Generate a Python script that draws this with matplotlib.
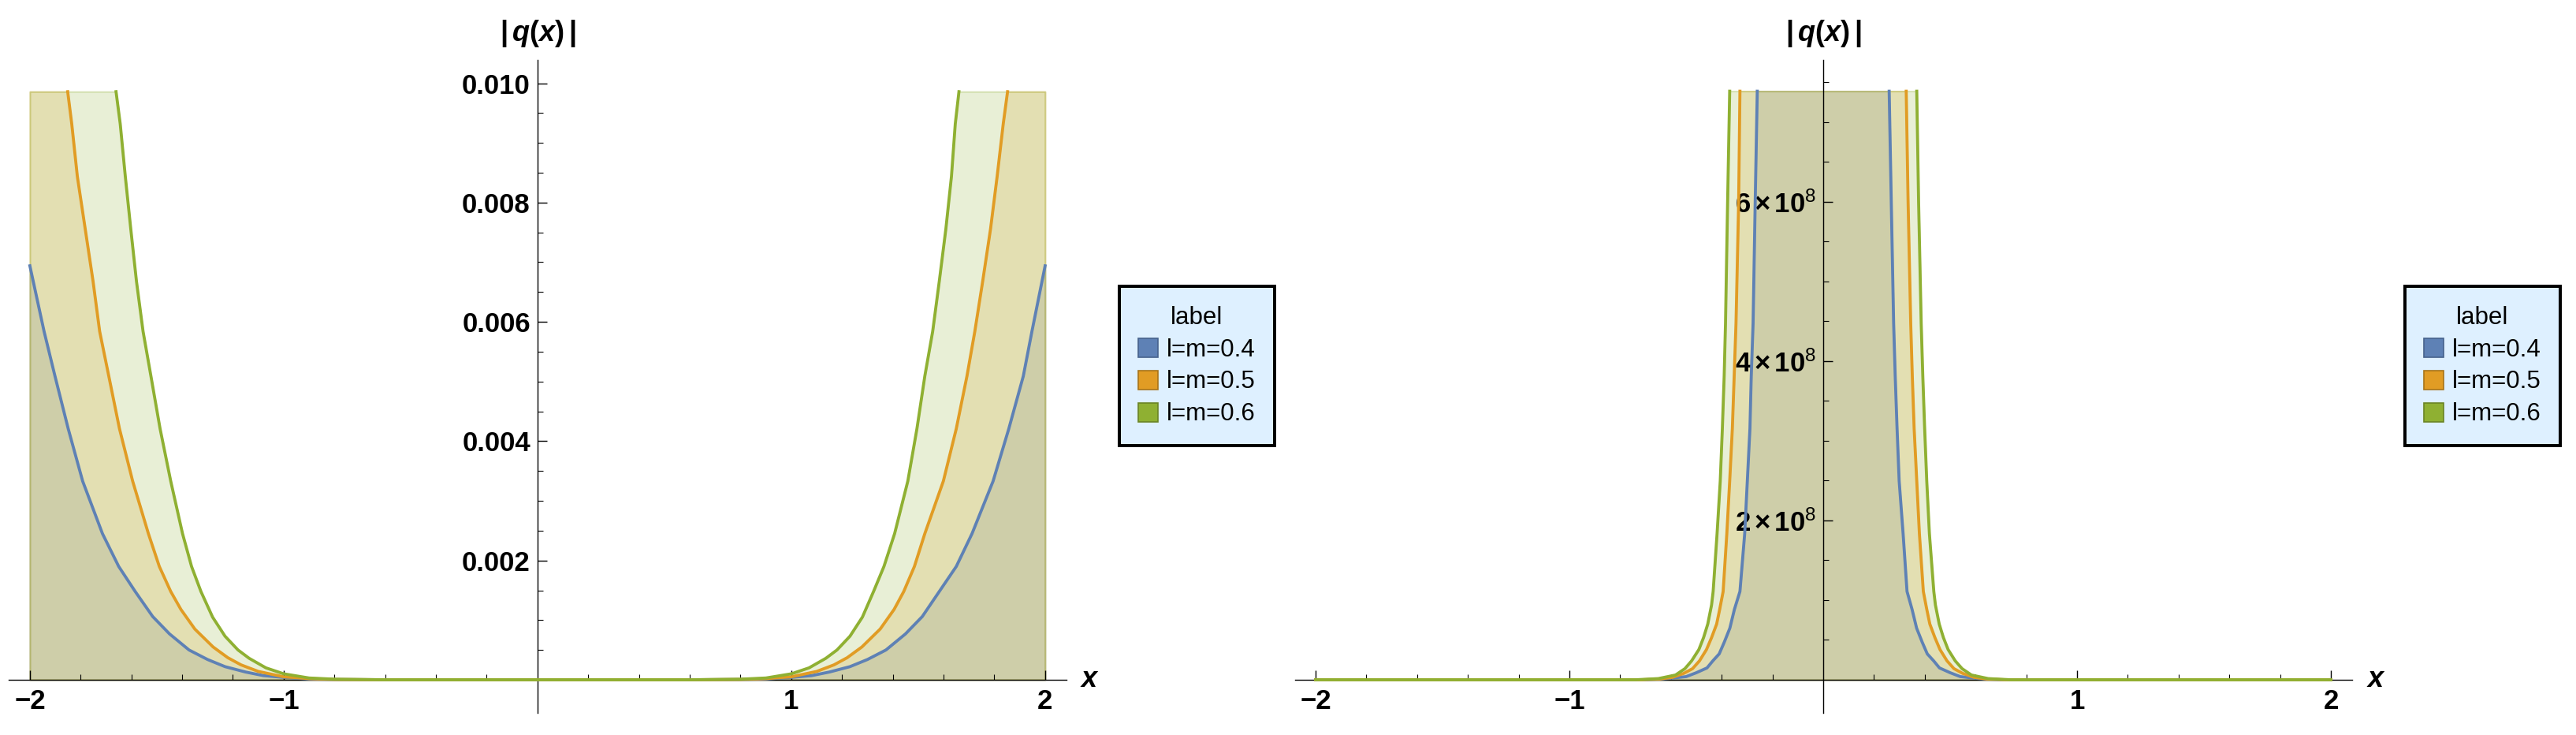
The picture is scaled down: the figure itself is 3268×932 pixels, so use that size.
import numpy as np
import matplotlib
matplotlib.use("Agg")
import matplotlib.pyplot as plt
from matplotlib.patches import Patch
from matplotlib.colors import to_rgba

plt.rcParams['font.family'] = ['Liberation Sans', 'DejaVu Sans']
plt.rcParams['mathtext.fontset'] = 'custom'
plt.rcParams['mathtext.rm'] = 'Liberation Sans:bold'
plt.rcParams['mathtext.it'] = 'Liberation Sans:bold:italic'
plt.rcParams['mathtext.bf'] = 'Liberation Sans:bold'
plt.rcParams['mathtext.sf'] = 'Liberation Sans'

# ---------------- data ----------------
labels = ['l=m=0.4', 'l=m=0.5', 'l=m=0.6']
colors = ['#5E81B5', '#E19C24', '#8FB032']
swatch_edges = ['#46628C', '#A87418', '#6A8424']
legend_title = 'label'

# plot-range tops (curves are clipped there)
TOP_L = 0.00986
TOP_R = 7.39e8

# left panel: |q(x)| (small scale)
xL_04 = [-2.0, -1.944, -1.901, -1.849, -1.792, -1.714, -1.65, -1.585, -1.516, -1.45, -1.373, -1.30, -1.231,
         -1.15, -1.08, -1.0, -0.9, -0.8, -0.6,
         0.6, 0.8, 0.9, 1.0, 1.08, 1.15, 1.231, 1.30, 1.373, 1.45, 1.516, 1.583, 1.65, 1.712, 1.795, 1.857,
         1.914, 1.948, 2.0]
yL_04 = [0.00694, 0.00584, 0.00509, 0.00421, 0.00333, 0.00245, 0.00190, 0.00148, 0.00106, 0.00077, 0.00050,
         0.00034, 0.00022, 0.00013, 0.00007, 0.00004, 0.000015, 0.000005, 0.0,
         0.0, 0.000005, 0.000015, 0.00004, 0.00007, 0.00013, 0.00022, 0.00034, 0.00050, 0.00077, 0.00106,
         0.00148, 0.00190, 0.00245, 0.00333, 0.00421, 0.00509, 0.00584, 0.00694]

xL_05 = [-2.0, -1.851, -1.835, -1.813, -1.782, -1.751, -1.725, -1.689, -1.647, -1.595, -1.533, -1.49, -1.445,
         -1.405, -1.35, -1.278, -1.22, -1.168, -1.10, -1.0, -0.9, -0.8, -0.6,
         0.6, 0.8, 0.9, 1.0, 1.10, 1.168, 1.22, 1.278, 1.35, 1.405, 1.443, 1.485, 1.526, 1.599, 1.650, 1.692,
         1.723, 1.754, 1.785, 1.811, 1.835, 1.852, 2.0]
yL_05 = [TOP_L, TOP_L, 0.00932, 0.00844, 0.00756, 0.00668, 0.00584, 0.00509, 0.00421, 0.00333, 0.00245, 0.00190,
         0.00148, 0.00118, 0.00085, 0.00055, 0.00037, 0.00025, 0.00014, 0.00005, 0.00002, 0.000005, 0.0,
         0.0, 0.000005, 0.00002, 0.00005, 0.00014, 0.00025, 0.00037, 0.00055, 0.00085, 0.00118, 0.00148, 0.00190,
         0.00245, 0.00333, 0.00421, 0.00509, 0.00584, 0.00668, 0.00756, 0.00844, 0.00932, TOP_L, TOP_L]

xL_06 = [-2.0, -1.6605, -1.644, -1.624, -1.6025, -1.580, -1.554, -1.523, -1.487, -1.445, -1.3985, -1.363, -1.326,
         -1.28, -1.231, -1.18, -1.136, -1.07, -1.0, -0.9, -0.8, -0.6,
         0.6, 0.8, 0.9, 1.0, 1.07, 1.136, 1.18, 1.231, 1.28, 1.324, 1.365, 1.407, 1.459, 1.495, 1.526, 1.557,
         1.583, 1.609, 1.631, 1.646, 1.6605, 2.0]
yL_06 = [TOP_L, TOP_L, 0.00932, 0.00844, 0.00756, 0.00668, 0.00584, 0.00509, 0.00421, 0.00333, 0.00245, 0.00190,
         0.00148, 0.00105, 0.00073, 0.00050, 0.00036, 0.00020, 0.00010, 0.00003, 0.00001, 0.0,
         0.0, 0.00001, 0.00003, 0.00010, 0.00020, 0.00036, 0.00050, 0.00073, 0.00105, 0.00148, 0.00190, 0.00245,
         0.00333, 0.00421, 0.00509, 0.00584, 0.00668, 0.00756, 0.00844, 0.00932, TOP_L, TOP_L]

# right panel: |q(x)| (large scale)
xR_04 = [-2.0, -0.70, -0.598, -0.54, -0.50, -0.458, -0.435, -0.41, -0.39, -0.368, -0.35, -0.3282, -0.3095,
         -0.2991, -0.2888, -0.2836, -0.2764, -0.2681, -0.2599, 0.0,
         0.2598, 0.2681, 0.2774, 0.2836, 0.2909, 0.2992, 0.3147, 0.3302, 0.35, 0.368, 0.39, 0.41, 0.435,
         0.458, 0.50, 0.54, 0.598, 0.70, 2.0]
yR_04 = [0.0, 0.0, 0.02e8, 0.04e8, 0.089e8, 0.149e8, 0.238e8, 0.325e8, 0.472e8, 0.648e8, 0.884e8, 1.109e8,
         1.835e8, 2.495e8, 3.155e8, 3.815e8, 4.475e8, 5.993e8, TOP_R, TOP_R,
         TOP_R, 5.993e8, 4.475e8, 3.815e8, 3.155e8, 2.495e8, 1.835e8, 1.109e8, 0.884e8, 0.648e8, 0.472e8,
         0.325e8, 0.238e8, 0.149e8, 0.089e8, 0.04e8, 0.02e8, 0.0, 0.0]

xR_05 = [-2.0, -0.72, -0.645, -0.595, -0.55, -0.515, -0.4876, -0.46, -0.44, -0.42, -0.408, -0.3944, -0.3799,
         -0.3686, -0.3581, -0.3509, -0.3437, -0.3333, -0.3282, 0.0,
         0.327, 0.3344, 0.3447, 0.3509, 0.3582, 0.3685, 0.3789, 0.3944, 0.408, 0.42, 0.44, 0.46, 0.4876,
         0.515, 0.55, 0.595, 0.645, 0.72, 2.0]
yR_05 = [0.0, 0.0, 0.01e8, 0.03e8, 0.08e8, 0.14e8, 0.238e8, 0.38e8, 0.53e8, 0.70e8, 0.884e8, 1.109e8, 1.835e8,
         2.495e8, 3.155e8, 3.815e8, 4.475e8, 5.993e8, TOP_R, TOP_R,
         TOP_R, 5.993e8, 4.475e8, 3.815e8, 3.155e8, 2.495e8, 1.835e8, 1.109e8, 0.884e8, 0.70e8, 0.53e8,
         0.38e8, 0.238e8, 0.14e8, 0.08e8, 0.03e8, 0.01e8, 0.0, 0.0]

xR_06 = [-2.0, -0.74, -0.65, -0.582, -0.545, -0.5186, -0.49, -0.4715, -0.455, -0.44, -0.4338, -0.4183,
         -0.4058, -0.3975, -0.3903, -0.3851, -0.3768, -0.3686, 0.0,
         0.3685, 0.3758, 0.386, 0.3923, 0.3996, 0.4079, 0.4183, 0.4357, 0.442, 0.457, 0.4735, 0.492, 0.52,
         0.547, 0.584, 0.65, 0.74, 2.0]
yR_06 = [0.0, 0.0, 0.015e8, 0.06e8, 0.14e8, 0.238e8, 0.38e8, 0.53e8, 0.70e8, 0.94e8, 1.109e8, 1.835e8,
         2.495e8, 3.155e8, 3.815e8, 4.475e8, 5.993e8, TOP_R, TOP_R,
         TOP_R, 5.993e8, 4.475e8, 3.815e8, 3.155e8, 2.495e8, 1.835e8, 1.109e8, 0.94e8, 0.70e8, 0.53e8,
         0.38e8, 0.238e8, 0.14e8, 0.06e8, 0.015e8, 0.0, 0.0]

x_ticks = [-2, -1, 1, 2]
x_ticklabels = ['\u22122', '\u22121', '1', '2']
x_minor = [-1.8, -1.6, -1.4, -1.2, -0.8, -0.6, -0.4, -0.2, 0.2, 0.4, 0.6, 0.8, 1.2, 1.4, 1.6, 1.8]

yL_ticks = [0.002, 0.004, 0.006, 0.008, 0.010]
yL_ticklabels = ['0.002', '0.004', '0.006', '0.008', '0.010']
yL_minor = [0.0005, 0.001, 0.0015, 0.0025, 0.003, 0.0035, 0.0045, 0.005, 0.0055,
            0.0065, 0.007, 0.0075, 0.0085, 0.009, 0.0095]

yR_ticks = [2e8, 4e8, 6e8]
yR_ticklabels = [r'$2\,{\times}\,10^{\mathsf{8}}$', r'$4\,{\times}\,10^{\mathsf{8}}$',
                 r'$6\,{\times}\,10^{\mathsf{8}}$']
yR_minor = [0.5e8, 1e8, 1.5e8, 2.5e8, 3e8, 3.5e8, 4.5e8, 5e8, 5.5e8, 6.5e8, 7e8, 7.5e8]

y_axis_label = r'$|\,q(x)\,|$'
x_axis_label = r'$x$'

# ---------------- figure ----------------
W, H = 3268, 932
fig = plt.figure(figsize=(W / 100, H / 100), dpi=100)

PX = 72 / 100  # points per pixel


def draw_series(ax, x, y, top, color):
    x = np.asarray(x, float)
    y = np.asarray(y, float)
    ax.fill_between(x, 0, y, facecolor=to_rgba(color, 0.2), edgecolor=to_rgba(color, 0.30),
                    linewidth=1.4, zorder=1)
    at_top = y >= top
    prev_top = np.r_[True, at_top[:-1]]
    next_top = np.r_[at_top[1:], True]
    hide = at_top & prev_top & next_top
    yl = np.where(hide, np.nan, y)
    ax.plot(x, yl, color=color, lw=3.8 * PX, zorder=3, solid_joinstyle='round')


def setup(ax, xlim, ylim, yticks, yticklabels, yminor):
    ax.set_xlim(xlim)
    ax.set_ylim(ylim)
    ax.patch.set_visible(False)
    for s in ['top', 'right']:
        ax.spines[s].set_visible(False)
    ax.spines['left'].set_position(('data', 0))
    ax.spines['bottom'].set_position(('data', 0))
    for s in ['left', 'bottom']:
        ax.spines[s].set_linewidth(1.0)
        ax.spines[s].set_zorder(2.5)
    ax.set_xticks(x_ticks)
    ax.set_xticklabels(x_ticklabels, fontsize=25, fontweight='bold')
    ax.set_xticks(x_minor, minor=True)
    ax.set_yticks(yticks)
    ax.set_yticklabels(yticklabels, fontsize=25, fontweight='bold')
    ax.set_yticks(yminor, minor=True)
    ax.tick_params(which='major', direction='in', length=12 * PX, width=1.0)
    ax.tick_params(which='minor', direction='in', length=7 * PX, width=0.8)
    ax.tick_params(axis='x', which='major', pad=8)
    ax.tick_params(axis='y', which='major', pad=6.5)
    ax.annotate(y_axis_label, xy=(0, 1), xycoords=('data', 'axes fraction'),
                xytext=(0, 33 * PX), textcoords='offset points', ha='center', va='center',
                fontsize=26)
    ax.annotate(x_axis_label, xy=(1, 0), xycoords=('axes fraction', 'data'),
                xytext=(30 * PX, 0), textcoords='offset points', ha='center', va='center',
                fontsize=26)


def add_legend(ax, cx, cy):
    handles = [Patch(facecolor=c, edgecolor=e, linewidth=1.2) for c, e in zip(colors, swatch_edges)]
    leg = ax.legend(handles, labels, title=legend_title, loc='center',
                    bbox_to_anchor=(cx / W, 1 - cy / H), bbox_transform=fig.transFigure,
                    fontsize=22.5, title_fontsize=22.5, frameon=True, fancybox=False,
                    edgecolor='black', facecolor=(0.87, 0.94, 1.0), framealpha=1,
                    borderpad=0.78, labelspacing=0.35, handlelength=0.8, handleheight=0.8,
                    handletextpad=0.36, borderaxespad=0)
    leg.get_frame().set_linewidth(4 * PX)


# left panel
axL = fig.add_axes([11 / W, (H - 903.5) / H, 1341.6 / W, 827.5 / H])
for x, y, c in [(xL_04, yL_04, colors[0]), (xL_05, yL_05, colors[1]), (xL_06, yL_06, colors[2])]:
    draw_series(axL, x, y, TOP_L, c)
setup(axL, (-2.0835, 2.083), (-0.000549, 0.010391), yL_ticks, yL_ticklabels, yL_minor)
add_legend(axL, 1518.4, 464)

# right panel
axR = fig.add_axes([1643 / W, (H - 903.5) / H, 1341 / W, 827.5 / H])
for x, y, c in [(xR_04, yR_04, colors[0]), (xR_05, yR_05, colors[1]), (xR_06, yR_06, colors[2])]:
    draw_series(axR, x, y, TOP_R, c)
setup(axR, (-2.081, 2.084), (-0.411e8, 7.782e8), yR_ticks, yR_ticklabels, yR_minor)
add_legend(axR, 3149.5, 464)

fig.savefig('out.png', dpi=100)
